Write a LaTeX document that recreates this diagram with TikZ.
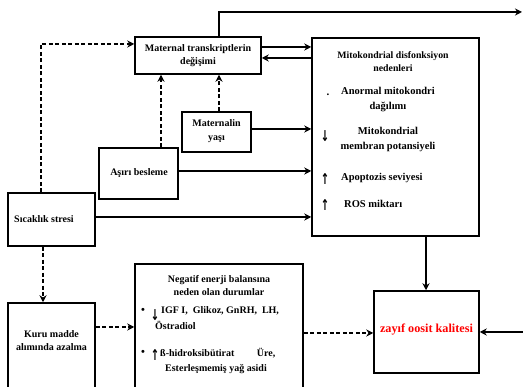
\documentclass[tikz,border=0pt]{standalone}
\usepackage{fontspec}
\setmainfont{Liberation Serif}
\newfontfamily\symfont{DejaVu Sans}
\usetikzlibrary{arrows.meta}
\begin{document}
\begin{tikzpicture}[x=1pt,y=-1pt,
  box/.style={draw,line width=1.5pt,inner sep=0pt},
  arr/.style={line width=1.5pt,-{Stealth[length=7pt,width=7pt]}},
  darr/.style={arr,dash pattern=on 4pt off 2.5pt},
  txt/.style={font=\bfseries\fontsize{10}{13.5}\selectfont,align=center,inner sep=0pt},
  sym/.style={font=\symfont\bfseries\fontsize{10}{12}\selectfont,inner sep=0pt,yscale=1.5},
  dot/.style={font=\bfseries\fontsize{11}{12}\selectfont,inner sep=0pt}]
\useasboundingbox (0,0) rectangle (523,387);
% boxes
\node[box,minimum width=126pt,minimum height=37pt] (mt) at (198,55.5) {};
\node[box,minimum width=167pt,minimum height=198pt] (mito) at (395.5,137) {};
\node[box,minimum width=69pt,minimum height=40pt] (my) at (216.5,132) {};
\node[box,minimum width=79pt,minimum height=51pt] (ab) at (138.5,173.5) {};
\node[box,minimum width=87pt,minimum height=53pt] (ss) at (51.5,219.5) {};
\node[box,minimum width=87pt,minimum height=92pt] (km) at (51.5,349) {};
\node[box,minimum width=168pt,minimum height=134pt] (neg) at (219,331) {};
\node[box,minimum width=105pt,minimum height=82pt] (zo) at (426.5,332) {};
% texts
\node[txt] (tmt) at (198,55.5) {Maternal transkriptlerin\\değişimi};
\node[txt] (tmy) at (216.5,131) {Maternalin\\yaşı};
\node[txt] (tab) at (139,173.5) {Aşırı besleme};
\node[txt] (tss) at (44,219.5) {Sıcaklık stresi};
\node[txt] (tkm) at (51.5,340.5) {Kuru madde\\alımında azalma};
\node[txt,text=red,font=\bfseries\fontsize{12.2}{14}\selectfont] (tzo) at (426.5,330) {zayıf oosit kalitesi};
% mito texts
\node[txt,font=\bfseries\fontsize{9.8}{13}\selectfont] (m0) at (393,61.5) {Mitokondrial disfonksiyon\\nedenleri};
\node[dot] (d1) at (328,95) {.};
\node[txt,font=\bfseries\fontsize{10.5}{15}\selectfont] (m1) at (388,99.5) {Anormal mitokondri\\dağılımı};
\node[sym] (a2) at (325,136) {↓};
\node[txt,font=\bfseries\fontsize{10.5}{15}\selectfont] (m2) at (388,139.5) {Mitokondrial\\membran potansiyeli};
\node[sym] (a3) at (325,179) {↑};
\node[txt,font=\bfseries\fontsize{10.5}{15}\selectfont,anchor=west] (m3) at (341,178) {Apoptozis seviyesi};
\node[sym] (a4) at (325,205) {↑};
\node[txt,font=\bfseries\fontsize{10.5}{15}\selectfont,anchor=west] (m4) at (344,204) {ROS miktarı};
% negatif texts
\node[txt] (n0) at (219,285.5) {Negatif enerji balansına\\neden olan durumlar};
\node[dot] (b1) at (143,311) {•};
\node[sym] (n1a) at (155,315) {↓};
\node[txt,anchor=west] (n1) at (161,311) {IGF I,\ \ Glikoz, GnRH,\ \ LH,};
\node[txt,anchor=west] (n1b) at (155,325) {Östradiol};
\node[dot] (b2) at (143,353) {•};
\node[sym] (n2a) at (155,355) {↑};
\node[txt,anchor=west] (n2) at (160,353) {ß-hidroksibütirat\qquad\ Üre,};
\node[txt] (n2b) at (216,369) {Esterleşmemiş yağ asidi};
% helper coordinates
\coordinate (x219) at (219,0);
\coordinate (x161) at (161,0);
\coordinate (x41) at (41,0);
\coordinate (x43) at (43,0);
\coordinate (x426) at (426,0);
\coordinate (y44) at (0,44);
\coordinate (y47) at (0,47);
\coordinate (y58) at (0,58);
\coordinate (y129) at (0,129);
\coordinate (y171) at (0,171);
\coordinate (y217) at (0,217);
\coordinate (y327) at (0,327);
\coordinate (y333) at (0,333);
\coordinate (topend) at (522,12);
\coordinate (rin) at (526,332);
% connectors
\draw[arr] (mt.north -| x219) |- (topend);
\draw[arr] (mt.east |- y47) -- (mito.west |- y47);
\draw[arr] (mito.west |- y58) -- (mt.east |- y58);
\draw[darr] (my.north -| x219) -- (mt.south -| x219);
\draw[darr] (ab.north -| x161) -- (mt.south -| x161);
\draw[darr] (ss.north -| x41) |- (mt.west |- y44);
\draw[arr] (my.east |- y129) -- (mito.west |- y129);
\draw[arr] (ab.east |- y171) -- (mito.west |- y171);
\draw[arr] (ss.east |- y217) -- (mito.west |- y217);
\draw[darr] (ss.south -| x43) -- (km.north -| x43);
\draw[darr] (km.east |- y327) -- (neg.west |- y327);
\draw[darr] (neg.east |- y333) -- (zo.west |- y333);
\draw[arr] (mito.south -| x426) -- (zo.north -| x426);
\draw[arr] (rin) -- (zo.east |- rin);
\end{tikzpicture}
\end{document}
